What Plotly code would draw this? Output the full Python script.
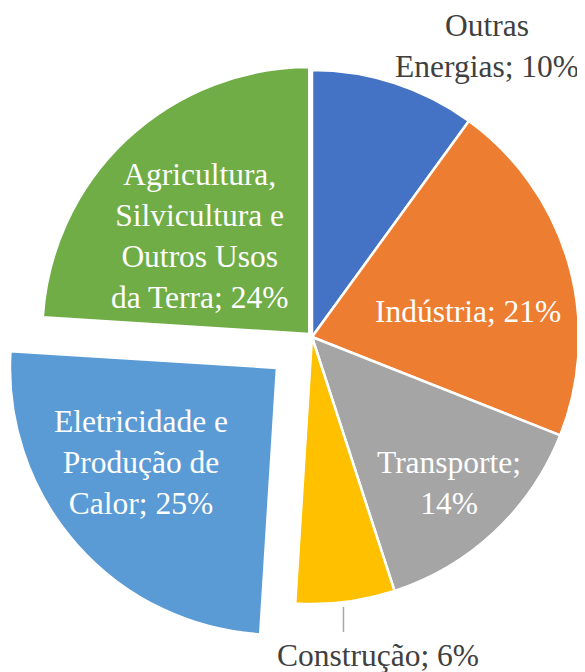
import math
import plotly.graph_objects as go

# a página tem margem de 8 px no corpo; a figura ocupa o resto da janela
JANELA_W, JANELA_H = 585, 672
OFF = 8
W, H = JANELA_W - OFF, JANELA_H - OFF

setores = ["Outras Energias", "Indústria", "Transporte", "Construção",
           "Eletricidade e Produção de Calor",
           "Agricultura, Silvicultura e Outros Usos da Terra"]
percentuais = [10, 21, 14, 6, 25, 24]
rotulos = ["Outras<br>Energias; 10%", "Indústria; 21%", "Transporte;<br>14%",
           "Construção; 6%", "Eletricidade e<br>Produção de<br>Calor; 25%",
           "Agricultura,<br>Silvicultura e<br>Outros Usos<br>da Terra; 24%"]
cores = ["#4472C4", "#ED7D31", "#A5A5A5", "#FFC000", "#5B9BD5", "#70AD47"]
destaque = [0, 0, 0, 0, 0.175, 0.015]      # fração do raio puxada para fora
rotulo_fora = [True, False, False, True, False, False]

# posição dos rótulos internos: fração do raio e ajuste de ângulo (graus)
frac_rotulo = [0, 0.59, 0.75, 0, 0.62, 0.55]
ajuste_ang = [0, 7, 0, 0, 6.5, -5]

FONTE = "Liberation Serif"
TAM = 31.5
TRANSP = "rgba(0,0,0,0)"

# geometria em pixels da janela (centro e raio da pizza)
cx, cy, r = 312, 337, 267


def px2paper(px, py):
    return (px - OFF) / W, 1 - (py - OFF) / H


def dominio(x0, y0):
    xa, yb = px2paper(x0 - r, y0 + r)
    xb, ya = px2paper(x0 + r, y0 - r)
    return dict(x=[xa, xb], y=[yb, ya])


def ponto(ang, raio, x0=cx, y0=cy):
    a = math.radians(ang)
    return x0 + raio * math.sin(a), y0 - raio * math.cos(a)


total = sum(percentuais)
meio = []
acc = 0
for p in percentuais:
    meio.append((acc + p / 2) / total * 360)
    acc += p

fig = go.Figure()

# pizza principal (fatias destacadas ficam transparentes aqui)
fig.add_trace(go.Pie(
    labels=setores, values=percentuais, sort=False, direction="clockwise",
    domain=dominio(cx, cy),
    marker=dict(colors=[TRANSP if d else c for c, d in zip(cores, destaque)],
                line=dict(color="white", width=[0 if d else 2.5 for d in destaque])),
    textinfo="none", hoverinfo="label+percent", showlegend=False,
))

centros = [(cx, cy)] * len(percentuais)

# fatias destacadas: mesma pizza deslocada ao longo do ângulo médio
for i, d in enumerate(destaque):
    if not d:
        continue
    x0, y0 = ponto(meio[i], d * r)
    centros[i] = (x0, y0)
    fig.add_trace(go.Pie(
        labels=setores, values=percentuais, sort=False, direction="clockwise",
        domain=dominio(x0, y0),
        marker=dict(colors=[c if j == i else TRANSP for j, c in enumerate(cores)],
                    line=dict(color="white", width=[2.5 if j == i else 0 for j in range(len(cores))])),
        textinfo="none", hoverinfo="label+percent", showlegend=False,
    ))

anot = []
formas = []
for i, f in enumerate(rotulo_fora):
    if not f:
        # rótulo interno, branco
        x0, y0 = centros[i]
        px, py = ponto(meio[i] + ajuste_ang[i], frac_rotulo[i] * r, x0, y0)
        x, y = px2paper(px, py)
        anot.append(dict(x=x, y=y, xref="paper", yref="paper", text=rotulos[i],
                         showarrow=False, xanchor="center", yanchor="middle", align="center",
                         font=dict(family=FONTE, size=TAM, color="white")))
        continue
    px, py = ponto(meio[i], r)
    if meio[i] < 90:
        x, y = px2paper(px, py)
        anot.append(dict(x=x, y=y, xref="paper", yref="paper",
                         text=rotulos[i], showarrow=False, xanchor="left", yanchor="bottom",
                         xshift=-2, yshift=-3, align="center",
                         font=dict(family=FONTE, size=TAM, color="#404040")))
    else:
        x, y0 = px2paper(px - 2, py + 5)
        _, y1 = px2paper(px, py + 30)
        formas.append(dict(type="line", xref="paper", yref="paper",
                           x0=x, x1=x, y0=y0, y1=y1,
                           line=dict(color="#A6A6A6", width=1.5)))
        _, y = px2paper(px, py + 34)
        anot.append(dict(x=x, y=y, xref="paper", yref="paper",
                         text=rotulos[i], showarrow=False, xanchor="center", yanchor="top",
                         xshift=35, align="center",
                         font=dict(family=FONTE, size=TAM, color="#404040")))

fig.update_layout(
    width=W, height=H,
    margin=dict(l=0, r=0, t=0, b=0),
    paper_bgcolor="white", plot_bgcolor="white",
    annotations=anot, shapes=formas,
)

fig.write_html("out.html")
